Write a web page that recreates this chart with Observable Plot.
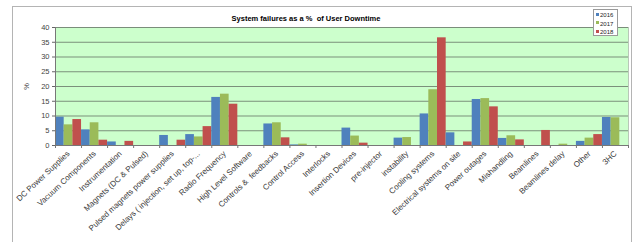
<!DOCTYPE html>
<html>
<head>
<meta charset="utf-8">
<script src="https://cdn.jsdelivr.net/npm/d3@7"></script>
<script src="https://cdn.jsdelivr.net/npm/@observablehq/plot@0.6"></script>
<style>
  html, body { margin: 0; padding: 0; background: #fff; }
  #wrap { position: relative; width: 635px; height: 242px; font-family: "Liberation Sans", Arial, sans-serif; overflow: hidden; }
  #border { position: absolute; left: 12px; top: 6px; width: 620px; height: 240px; border: 1px solid #b4b4b4; border-bottom: none; box-sizing: border-box; }
  #title { position: absolute; left: 186px; width: 240px; top: 14px; text-align: center; font-weight: bold; font-size: 7.5px; color: #000; white-space: nowrap; }
  #legend { position: absolute; left: 593px; top: 9px; width: 25px; height: 27px; border: 1px solid #9a9a9a; background: #fff; box-sizing: border-box; font-size: 6px; color: #222; }
  #legend .row { position: absolute; left: 2px; height: 8px; line-height: 8px; white-space: nowrap; }
  #legend .sw { display: inline-block; width: 3px; height: 3px; margin-right: 1px; vertical-align: middle; position: relative; top: -1px; }
  #chart { position: absolute; left: 0; top: 0; }
</style>
</head>
<body>
<div id="wrap">
  <div id="border"></div>
  <div id="chart"></div>
  <div id="title">System failures as a %&nbsp; of User Downtime</div>
  <div id="legend"></div>
</div>
<script>
const categories = [
  "DC Power Supplies", "Vacuum Components", "Instrumentation", "Magnets (DC & Pulsed)",
  "Pulsed magnets power supplies", "Delays ( injection, set up, top-...", "Radio Frequency",
  "High Level Software", "Controls &  feedbacks", "Control Access", "Interlocks",
  "Insertion Devices", "pre-injector", "instability", "Cooling systems",
  "Electrical systems on site", "Power outages", "Mishandling", "Beamlines",
  "Beamlines delay", "Other", "3HC"
];
const years = ["2016", "2017", "2018"];
const v2016 = [9.6, 5.3, 1.2, 0, 3.4, 3.7, 16.3, 0, 7.3, 0.2, 0, 5.9, 0, 2.5, 10.7, 4.3, 15.6, 2.4, 0, 0, 1.4, 9.5];
const v2017 = [7.0, 7.7, 0, 0, 0, 2.9, 17.4, 0, 7.7, 0.45, 0, 3.2, 0, 2.7, 18.9, 0, 15.9, 3.3, 0, 0.45, 2.5, 9.4];
const v2018 = [8.8, 1.8, 1.4, 0, 1.8, 6.4, 14.0, 0, 2.6, 0, 0, 0.8, 0, 0, 36.5, 1.2, 13.1, 1.9, 5.1, 0, 3.7, 0];
const colors = ["#4f81bd", "#9bbb59", "#c0504d"];
const yTicks = [0, 5, 10, 15, 20, 25, 30, 35, 40];

const series = [v2016, v2017, v2018];
const rows = [];
categories.forEach((c, i) => {
  series.forEach((vals, j) => {
    if (vals[i] > 0) rows.push({cat: c, year: years[j], value: vals[i], x1: i + j / 3, x2: i + (j + 1) / 3});
  });
});

const font = "'Liberation Sans', Arial, sans-serif";
const plot = Plot.plot({
  width: 635,
  height: 242,
  marginLeft: 55,
  marginRight: 7,
  marginTop: 27,
  marginBottom: 97,
  style: {fontFamily: font, fontSize: "7.5px", background: "transparent", color: "#333", overflow: "visible"},
  x: {type: "linear", domain: [0, categories.length], axis: null},
  y: {domain: [0, 40], axis: null},
  color: {domain: years, range: colors},
  marks: [
    Plot.frame({fill: "#ccffcc", stroke: "#b8c8b8"}),
    Plot.gridY(yTicks, {stroke: "#768a76", strokeOpacity: 0.95, strokeWidth: 1}),
    Plot.rectY(rows, {x1: "x1", x2: "x2", y1: 0, y2: "value", fill: "year"}),
    Plot.axisY(yTicks, {tickSize: 3, tickPadding: 3, stroke: "#666", fill: "#444", fontSize: 7.5, label: "%", labelAnchor: "center", labelArrow: "none", labelOffset: 32}),
    Plot.ruleX([0], {stroke: "#777"}),
    Plot.ruleY([0], {stroke: "#777"}),
    Plot.axisX(d3.range(categories.length + 1), {tickSize: 3, tickFormat: () => "", stroke: "#777"}),
    Plot.axisX(d3.range(categories.length).map(i => i + 0.5), {
      tickSize: 0, tickPadding: 7, tickRotate: -43, fontSize: 8, fill: "#3a3a3a",
      tickFormat: d => categories[Math.floor(d)], label: null
    })
  ]
});
document.getElementById("chart").appendChild(plot);

const legend = document.getElementById("legend");
years.forEach((y, j) => {
  const r = document.createElement("div");
  r.className = "row";
  r.style.top = (1 + j * 8.5) + "px";
  r.innerHTML = `<span class="sw" style="background:${colors[j]}"></span>${y}`;
  legend.appendChild(r);
});
</script>
</body>
</html>
